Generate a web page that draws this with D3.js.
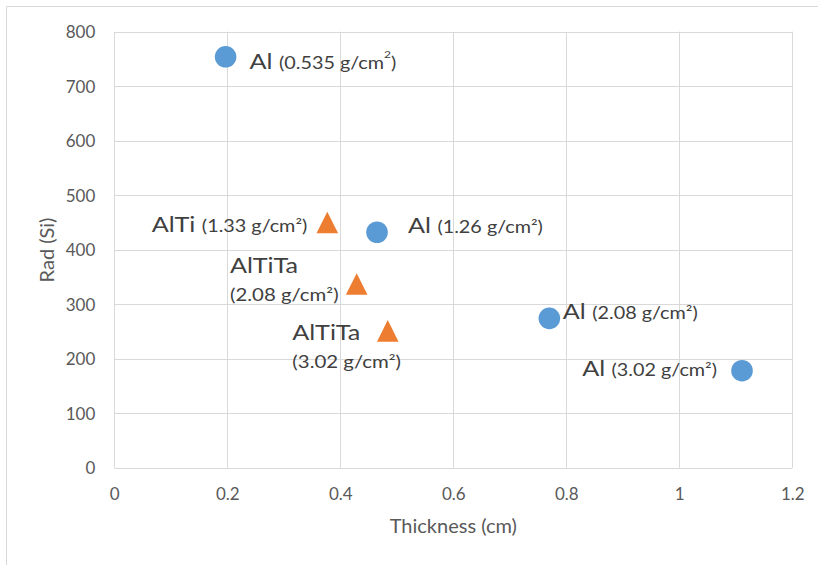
<!DOCTYPE html>
<html>
<head>
<meta charset="utf-8">
<script src="https://cdn.jsdelivr.net/npm/d3@7"></script>
<style>
  html, body { margin: 0; padding: 0; background: #fff; }
  svg { display: block; font-family: Lato, "Open Sans", sans-serif; }
</style>
</head>
<body>
<svg id="chart" width="818" height="565"></svg>
<script>
// ---- data ----
const alThickness = [0.197, 0.465, 0.770, 1.111];
const alRad = [754, 432, 274, 178];
const alNames = ["Al", "Al", "Al", "Al"];
const alDensities = ["(0.535 g/cm", "(1.26 g/cm²)", "(2.08 g/cm²)", "(3.02 g/cm²)"];

const altiThickness = [0.377, 0.429, 0.484];
const altiRad = [450, 337, 251];
const altiNames = ["AlTi", "AlTiTa", "AlTiTa"];
const altiDensities = ["(1.33 g/cm²)", "(2.08 g/cm²)", "(3.02 g/cm²)"];

const xTicks = [0, 0.2, 0.4, 0.6, 0.8, 1, 1.2];
const yTicks = [0, 100, 200, 300, 400, 500, 600, 700, 800];
const xTitle = "Thickness (cm)";
const yTitle = "Rad (Si)";

// ---- layout (label placement relative to markers, in px) ----
const alLabelLayout = [
  { dx: 24, dy: 12, anchor: "start", twoLines: false, sup: true },
  { dx: 31, dy: 1, anchor: "start", twoLines: false },
  { dx: 13.5, dy: 0.5, anchor: "start", twoLines: false },
  { dx: -25, dy: 5, anchor: "end", twoLines: false }
];
const altiLabelLayout = [
  { dx: -20, dy: 10, anchor: "end", twoLines: false },
  { dx: -126.7, dy: -11, anchor: "start", twoLines: true },
  { dx: -95.4, dy: 9, anchor: "start", twoLines: true }
];

const svg = d3.select("#chart");
const mLeft = 114.3, mRight = 792.3, mTop = 31.7, mBottom = 467.7;

const x = d3.scaleLinear().domain([0, 1.2]).range([mLeft, mRight]);
const y = d3.scaleLinear().domain([0, 800]).range([mBottom, mTop]);

const grid = "#D9D9D9";

// outer chart border
svg.append("path")
  .attr("d", `M6.5,570 L6.5,6.5 L830,6.5`)
  .attr("fill", "none").attr("stroke", grid).attr("stroke-width", 1);

// gridlines
svg.append("g").selectAll("line").data(yTicks).join("line")
  .attr("x1", mLeft).attr("x2", mRight)
  .attr("y1", d => Math.round(y(d)) + 0.5).attr("y2", d => Math.round(y(d)) + 0.5)
  .attr("stroke", grid).attr("stroke-width", 1);
svg.append("g").selectAll("line").data(xTicks).join("line")
  .attr("y1", mTop).attr("y2", mBottom)
  .attr("x1", d => Math.round(x(d)) + 0.5).attr("x2", d => Math.round(x(d)) + 0.5)
  .attr("stroke", grid).attr("stroke-width", 1);

// axes (labels only)
const xAxis = d3.axisBottom(x).tickValues(xTicks).tickSize(0).tickPadding(0)
  .tickFormat(d => String(d));
const gx = svg.append("g").attr("transform", `translate(0,${mBottom + 26})`).call(xAxis);
gx.select(".domain").remove();
gx.selectAll("text").attr("fill", "#595959").attr("font-size", 17)
  .attr("font-family", "Lato, sans-serif").attr("dy", "0.36em");

const yAxis = d3.axisLeft(y).tickValues(yTicks).tickSize(0).tickPadding(0)
  .tickFormat(d => String(d));
const gy = svg.append("g").attr("transform", `translate(${mLeft - 19},0)`).call(yAxis);
gy.select(".domain").remove();
gy.selectAll("text").attr("fill", "#595959").attr("font-size", 17)
  .attr("font-family", "Lato, sans-serif").attr("dy", "0.36em");

// axis titles
svg.append("text").attr("x", (mLeft + mRight) / 2).attr("y", 533)
  .attr("text-anchor", "middle").attr("fill", "#595959").attr("font-size", 20)
  .text(xTitle);
svg.append("text").attr("transform", `translate(54,250) rotate(-90)`)
  .attr("text-anchor", "middle").attr("fill", "#595959").attr("font-size", 20)
  .text(yTitle);

// markers
const alData = alThickness.map((t, i) => ({ x: t, y: alRad[i], name: alNames[i], dens: alDensities[i], lay: alLabelLayout[i] }));
const altiData = altiThickness.map((t, i) => ({ x: t, y: altiRad[i], name: altiNames[i], dens: altiDensities[i], lay: altiLabelLayout[i] }));

svg.append("g").selectAll("circle").data(alData).join("circle")
  .attr("cx", d => x(d.x)).attr("cy", d => y(d.y)).attr("r", 10.8)
  .attr("fill", "#5B9BD5");

const tri = "M0,-10.8 L10.8,10.8 L-10.8,10.8 Z";
svg.append("g").selectAll("path").data(altiData).join("path")
  .attr("transform", d => `translate(${x(d.x)},${y(d.y)})`)
  .attr("d", tri).attr("fill", "#ED7D31");

// labels (slightly wide lettering, as in the original)
const labelColor = "#404040";
const sx = 1.2;
function drawLabel(d) {
  const L = d.lay;
  const px = x(d.x) + L.dx, py = y(d.y) + L.dy;
  if (L.twoLines) {
    const g1 = svg.append("g").attr("transform", `translate(${px},${py}) scale(${sx},1)`);
    g1.append("text").attr("text-anchor", L.anchor)
      .attr("fill", labelColor).attr("font-size", 21).text(d.name);
    const g2 = svg.append("g").attr("transform", `translate(${px},${py + 28}) scale(${sx},1)`);
    g2.append("text").attr("text-anchor", L.anchor)
      .attr("fill", labelColor).attr("font-size", 17).text(d.dens);
  } else {
    const g = svg.append("g").attr("transform", `translate(${px},${py}) scale(${sx},1)`);
    const t = g.append("text").attr("text-anchor", L.anchor).attr("fill", labelColor);
    t.append("tspan").attr("font-size", 21).text(d.name + " ");
    t.append("tspan").attr("font-size", 16.5).text(d.dens);
    if (L.sup) {
      t.append("tspan").attr("font-size", 10).attr("dy", -11).text("2");
      t.append("tspan").attr("font-size", 16.5).attr("dy", 11).text(")");
    }
  }
}
alData.forEach(drawLabel);
altiData.forEach(drawLabel);
</script>
</body>
</html>
